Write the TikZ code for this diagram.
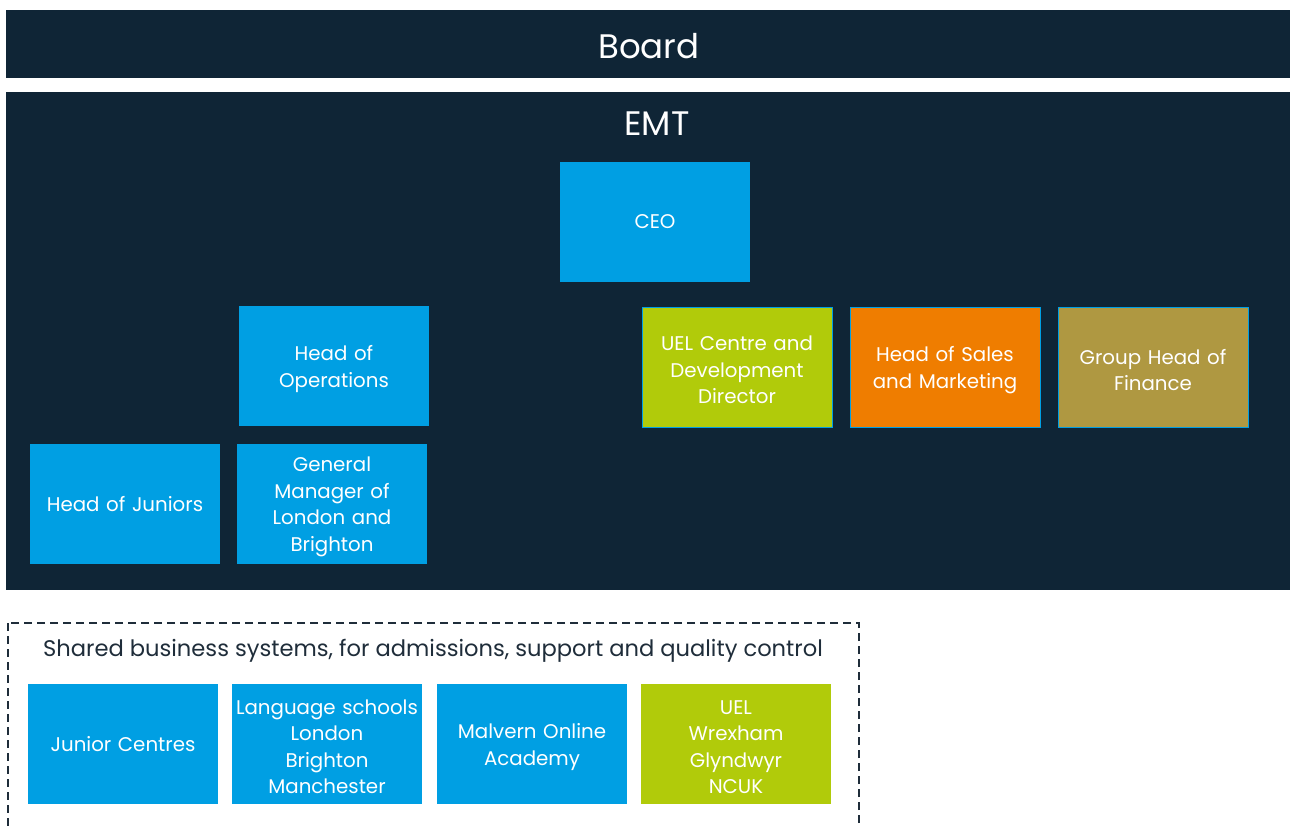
\documentclass[tikz,border=0pt]{standalone}
\usepackage{fontspec}
\setmainfont{Poppins}
\definecolor{navy}{HTML}{0F2536}
\definecolor{skyblue}{HTML}{009FE3}
\definecolor{lime}{HTML}{B1CB0A}
\definecolor{amber}{HTML}{EF7D00}
\definecolor{ochre}{HTML}{AF9841}
\definecolor{slate}{HTML}{1F2D3A}
\begin{document}
\begin{tikzpicture}[x=1pt,y=-1pt,
  band/.style={fill=navy,draw=none},
  caption/.style={inner sep=0pt,text width=188pt,align=center,text=white,
    font=\fontsize{19.8}{26.5}\selectfont},
  unit/.style={fill=skyblue,draw=none,minimum width=190pt,minimum height=120pt,inner sep=0pt},
  % one-line and multi-line captions sit at slightly different heights
  named/.style={unit,label={[caption]center:#1}},
  stacked/.style={unit,label={[caption,yshift=-3pt]center:#1}},
  edged/.style={draw=skyblue,line width=1pt},
  heading/.style={text=white,font=\fontsize{34}{40}\selectfont,inner sep=0pt}]
\useasboundingbox (0,0) rectangle (1290,827);
\clip (0,0) rectangle (1290,827);

% top bands
\fill[band] (6,10) rectangle (1290,78);
\node[heading] (board) at (649,46) {Board};
\fill[band] (6,92) rectangle (1290,590);
\node[heading] (emt) at (657,124) {EMT};

% executive team
\node[named={CEO}] (ceo) at (655,222) {};
\node[stacked={Head of\\Operations}] (ops) at (334,366) {};
\node[stacked={UEL Centre and\\Development\\Director},edged,fill=lime] (uelcd) at (737,367) {};
\node[stacked={Head of Sales\\and Marketing},edged,fill=amber] (sales) at (945,367) {};
\node[stacked={Group Head of\\Finance},edged,fill=ochre] (fin) at (1153,367) {};
\node[named={Head of Juniors}] (juniors) at (125,504) {};
\node[stacked={General\\Manager of\\London and\\Brighton}] (gm) at (332,504) {};

% shared systems
\draw[slate,line width=1.8pt,dash pattern=on 8pt off 5pt] (8,623) rectangle (859,850);
\node[text=slate,font=\fontsize{22.6}{26}\selectfont,inner sep=0pt] (shared) at (433,651)
  {Shared business systems, for admissions, support and quality control};
\node[named={Junior Centres}] (jc) at (123,744) {};
\node[stacked={Language schools\\London\\Brighton\\Manchester}] (lang) at (327,744) {};
\node[stacked={Malvern Online\\Academy}] (moa) at (532,744) {};
\node[stacked={UEL\\Wrexham\\Glyndwyr\\NCUK},fill=lime] (uel) at (736,744) {};
\end{tikzpicture}
\end{document}
